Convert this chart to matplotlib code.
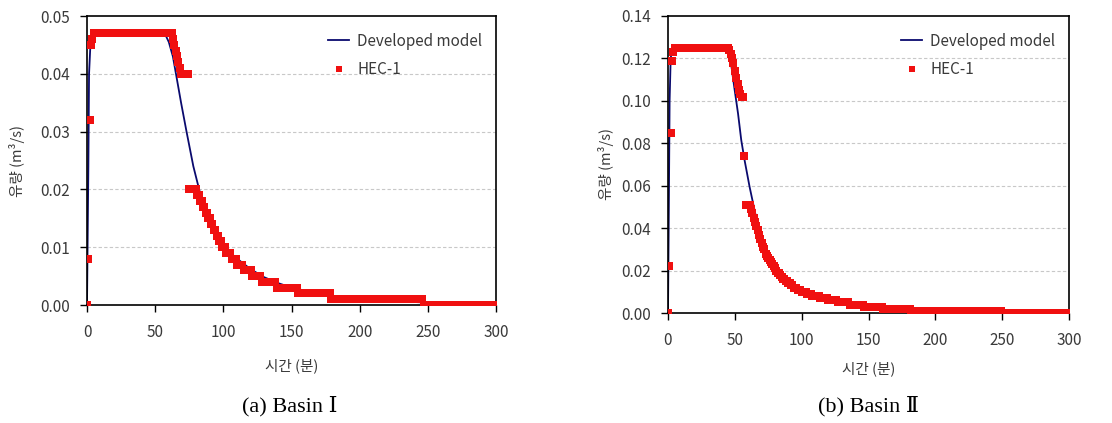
import numpy as np
import matplotlib
matplotlib.use("Agg")
import matplotlib.pyplot as plt
from matplotlib.ticker import FormatStrFormatter

plt.rcParams['font.family'] = ['Noto Sans CJK KR', 'DejaVu Sans']

# Developed model
model1_t = [0, 0.5, 1, 1.5, 2.5, 3.5, 5, 57, 60, 63, 66, 69, 73, 78, 83, 88, 93, 98,
            108, 120, 130, 140, 150, 165, 180, 200, 225, 250, 275, 300]
model1_q = [0, 0.012, 0.024, 0.040, 0.045, 0.0465, 0.047, 0.047, 0.0455, 0.043, 0.039,
            0.035, 0.030, 0.024, 0.0193, 0.0159, 0.0133, 0.0112, 0.0084, 0.0062, 0.0048,
            0.0038, 0.0030, 0.0022, 0.0016, 0.0011, 0.0007, 0.0004, 0.0002, 0.0001]

model2_t = [0, 0.7, 1.2, 2, 3, 4, 44, 47.5, 49.9, 52.4, 54.8, 57.3, 61, 64.7, 69.6, 74.5,
            81.9, 91.7, 101.5, 121, 146, 183, 250, 300]
model2_q = [0, 0.056, 0.100, 0.120, 0.124, 0.125, 0.125, 0.116, 0.105, 0.094, 0.0815,
            0.072, 0.0596, 0.0486, 0.0345, 0.0266, 0.0188, 0.0125, 0.0094, 0.0055, 0.0030,
            0.0016, 0.0006, 0.0002]

# HEC-1 output (1 min step), stored as levels and the last minute of each level
hec1_levels = [0, 0.008, 0.032, 0.045, 0.046, 0.047, 0.046, 0.045, 0.044, 0.043, 0.042,
               0.041, 0.040, 0.020, 0.019, 0.018, 0.017, 0.016, 0.015, 0.014, 0.013, 0.012,
               0.011, 0.010, 0.009, 0.008, 0.007, 0.006, 0.005, 0.004, 0.003, 0.002, 0.001, 0.0]
hec1_ends = [0, 1, 2, 3, 4, 62, 63, 64, 65, 66, 67, 68, 74, 80, 82, 84, 86, 88, 90, 92, 94,
             96, 98, 101, 105, 109, 114, 120, 127, 138, 154, 178, 246, 300]

hec2_levels = [0, 0.022, 0.085, 0.119, 0.123, 0.125, 0.124, 0.122, 0.120, 0.118, 0.114,
               0.111, 0.108, 0.105, 0.103, 0.102, 0.074, 0.051, 0.049, 0.047, 0.045, 0.043,
               0.041, 0.039, 0.037, 0.035, 0.033, 0.031, 0.030, 0.028, 0.027, 0.026, 0.025,
               0.024, 0.023, 0.022, 0.021, 0.020, 0.019, 0.018, 0.017, 0.016, 0.015, 0.014,
               0.013, 0.012, 0.011, 0.010, 0.009, 0.008, 0.007, 0.006, 0.005, 0.004, 0.003,
               0.002, 0.001, 0.0]
hec2_ends = [0, 1, 2, 3, 4, 45, 46, 47, 48, 49, 50, 51, 52, 53, 54, 56, 57, 61, 62, 63, 64,
             65, 66, 67, 68, 69, 70, 71, 72, 73, 74, 75, 76, 77, 78, 79, 80, 81, 83, 84, 85,
             87, 89, 91, 93, 96, 99, 103, 107, 113, 119, 126, 135, 146, 160, 181, 249, 300]

ylims = [0.05, 0.14]
yticks = [np.arange(0, 0.051, 0.01), np.arange(0, 0.141, 0.02)]
captions = ["(a) Basin \u2160", "(b) Basin \u2161"]


def expand(levels, ends):
    counts = np.diff([-1] + ends)
    q = np.repeat(levels, counts)
    return np.arange(len(q)), q


fig = plt.figure(figsize=(11.12, 4.23), dpi=100)
W, H = 1112, 423
ax1 = fig.add_axes([87 / W, (H - 305) / H, (496 - 87) / W, (305 - 16) / H])
ax2 = fig.add_axes([668 / W, (H - 313) / H, (1069 - 668) / W, (313 - 16) / H])

data = [(model1_t, model1_q, hec1_levels, hec1_ends),
        (model2_t, model2_q, hec2_levels, hec2_ends)]
ylab_x = [-0.152, -0.135]
xlab_y = [-0.183, -0.162]
cap_x = [290, 868]
gray = '#3a3a3a'

for i, ax in enumerate([ax1, ax2]):
    mt, mq, lv, en = data[i]
    ht, hq = expand(lv, en)
    ax.plot(mt, mq, color='#0a0a6e', lw=1.3, label='Developed model', zorder=2)
    ax.plot(ht, hq, 's', color='#f01010', ms=5.4, mew=0, label='HEC-1', zorder=3)

    ax.set_xlim(0, 300)
    ax.set_ylim(0, ylims[i])
    ax.set_xticks(np.arange(0, 301, 50))
    ax.set_yticks(yticks[i])
    ax.yaxis.set_major_formatter(FormatStrFormatter('%.2f'))
    for y in yticks[i][1:]:
        if y < ylims[i] - 1e-9:
            ax.axhline(y, color='#c8c8c8', lw=0.8, ls=(0, (3, 2)), zorder=1)
    ax.tick_params(direction='out', length=5, width=1, labelsize=11, labelcolor=gray)
    ax.tick_params(axis='x', pad=9)
    ax.tick_params(axis='y', pad=7)
    for s in ax.spines.values():
        s.set_linewidth(1.2)

    ax.set_ylabel('유량 (m³/s)', fontsize=10.5, color=gray)
    ax.yaxis.set_label_coords(ylab_x[i], 0.5)
    ax.set_xlabel('시간 (분)', fontsize=10.5, color=gray)
    ax.xaxis.set_label_coords(0.5, xlab_y[i])

    leg = ax.legend(loc='upper right', bbox_to_anchor=(1.0, 0.99), frameon=False,
                    fontsize=11, handlelength=1.4, handletextpad=0.5, labelspacing=0.75,
                    markerscale=0.8)
    for t in leg.get_texts():
        t.set_color(gray)

    fig.text(cap_x[i] / W, 1 - 406 / H, captions[i], ha='center', va='center', fontsize=16,
             family=['Liberation Serif', 'DejaVu Serif', 'Noto Sans CJK KR'])

fig.savefig('out.png', dpi=100)
